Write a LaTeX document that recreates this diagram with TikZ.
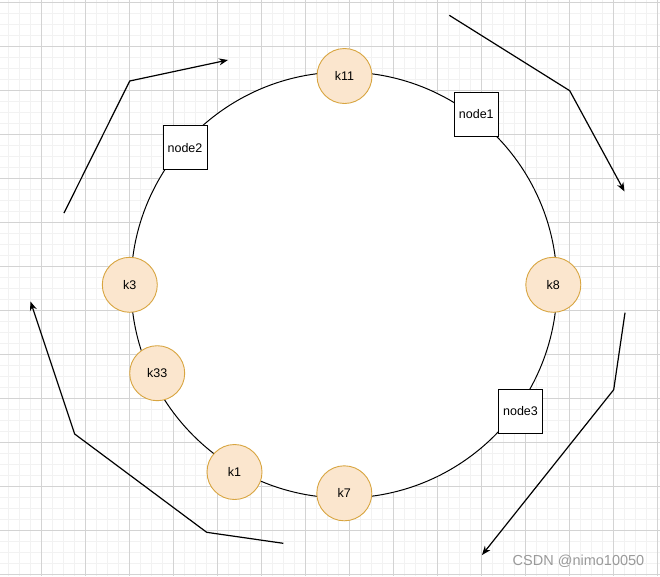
\documentclass[tikz,border=0pt]{standalone}
\usepackage{fontspec}
\setmainfont{Liberation Sans}
\usetikzlibrary{arrows.meta}
\definecolor{keyfill}{HTML}{FBE6CE}
\definecolor{keydraw}{HTML}{D8A540}
\definecolor{gridminor}{HTML}{F2F2F2}
\definecolor{gridmajor}{HTML}{D3D3D3}
\definecolor{wmark}{HTML}{9A9A9A}
\tikzset{
  keynode/.style={circle, fill=keyfill, draw=keydraw, line width=0.9pt, minimum size=55pt, inner sep=0pt, font=\fontsize{12.5}{14}\selectfont},
  servernode/.style={rectangle, fill=white, draw=black, line width=0.9pt, minimum size=44pt, inner sep=0pt, font=\fontsize{12.5}{14}\selectfont},
  ring/.style={draw=black, fill=white, line width=1pt},
  flow/.style={draw=black, line width=1.2pt, -{Stealth[length=9pt,width=7pt]}},
  minorline/.style={draw=gridminor, line width=1pt},
  majorline/.style={draw=gridmajor, line width=0.8pt}
}
\begin{document}
\begin{tikzpicture}[x=1pt,y=-1pt]
\useasboundingbox (0,0) rectangle (660,576);
\fill[white] (0,0) rectangle (660,576);
% grid
\foreach \i in {0,...,60} {
  \draw[minorline] ({8.5+11*\i},0) -- ({8.5+11*\i},576);
}
\foreach \i in {0,...,52} {
  \draw[minorline] (0,{2.7+11*\i}) -- (660,{2.7+11*\i});
}
\foreach \i in {0,...,14} {
  \draw[majorline] ({41.5+44*\i},0) -- ({41.5+44*\i},576);
}
\foreach \i in {0,...,13} {
  \draw[majorline] (0,{2.7+44*\i}) -- (660,{2.7+44*\i});
}
% ring
\node[ring, circle, minimum size=426pt, inner sep=0pt] (ringc) at (344,285) {};
% servers
\node[servernode] (node1) at (476.3,114.5) {node1};
\node[servernode] (node2) at (185,147.7) {node2};
\node[servernode] (node3) at (520.5,411.5) {node3};
% keys
\node[keynode] (k11) at (344.5,76) {k11};
\node[keynode] (k8) at (553.3,284.8) {k8};
\node[keynode] (k3) at (129.8,284.8) {k3};
\node[keynode] (k33) at (157.2,373.2) {k33};
\node[keynode] (k1) at (234.5,472) {k1};
\node[keynode] (k7) at (344.3,493.3) {k7};
% flow arrows
\coordinate (a1s) at (64,213);
\coordinate (a1b) at (129.7,81);
\coordinate (a1e) at (228,60);
\draw[flow] (a1s) -- (a1b) -- (a1e);
\coordinate (a2s) at (449.3,15.3);
\coordinate (a2b) at (569.7,90.7);
\coordinate (a2e) at (624.5,191.5);
\draw[flow] (a2s) -- (a2b) -- (a2e);
\coordinate (a3s) at (625,312.7);
\coordinate (a3b) at (613.7,389.7);
\coordinate (a3e) at (482,555);
\draw[flow] (a3s) -- (a3b) -- (a3e);
\coordinate (a4s) at (283.3,543.3);
\coordinate (a4b) at (206.7,532.3);
\coordinate (a4c) at (74.7,434);
\coordinate (a4e) at (30.5,301.5);
\draw[flow] (a4s) -- (a4b) -- (a4c) -- (a4e);
% watermark
\node[text=wmark, font=\fontsize{14.5}{16}\selectfont, anchor=center] (wm) at (578.5,561) {CSDN @nimo10050};
\end{tikzpicture}
\end{document}
